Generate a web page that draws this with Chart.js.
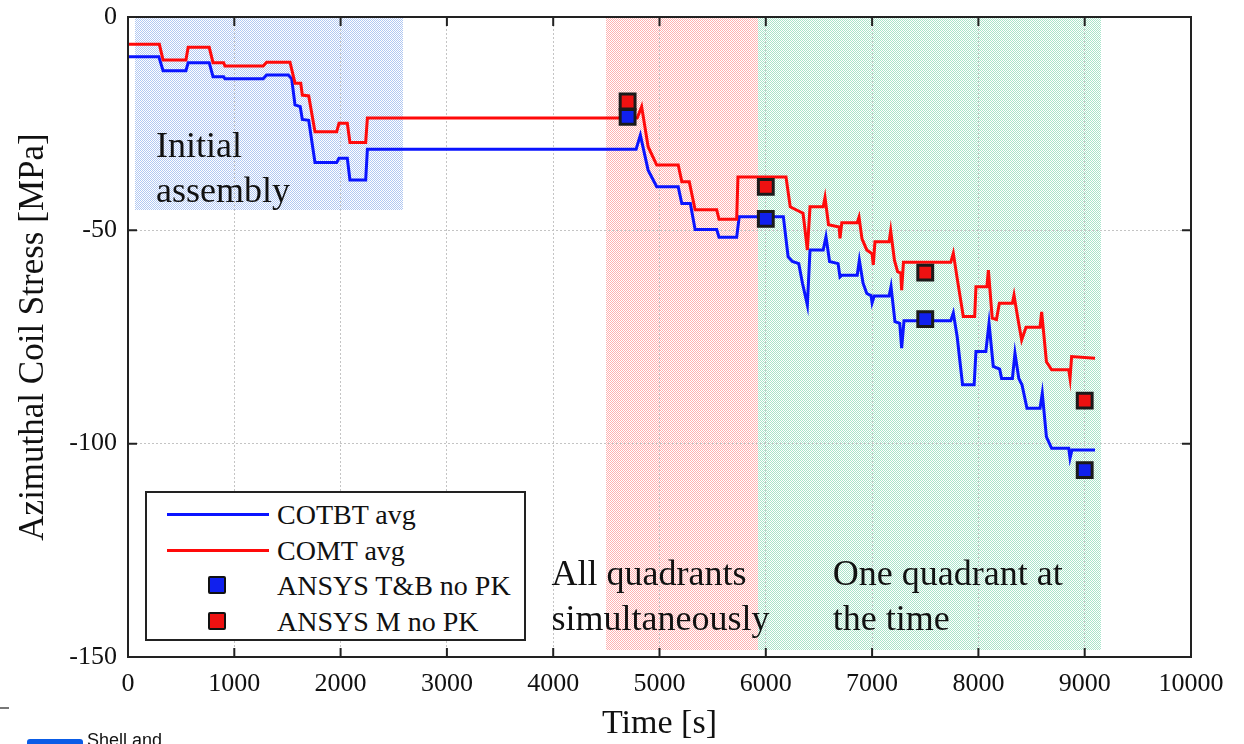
<!DOCTYPE html>
<html>
<head>
<meta charset="utf-8">
<script src="https://cdn.jsdelivr.net/npm/chart.js@4.4.1/dist/chart.umd.min.js"></script>
<style>
  body { margin: 0; background: #fff; overflow: hidden; }
  #wrap { position: relative; width: 1244px; height: 744px; }
  #legend {
    position: absolute; left: 145px; top: 491px; width: 377px; height: 146px;
    border: 2px solid #222; background: #fff;
    font-family: "Liberation Serif", serif; font-size: 28px; color: #111;
  }
  #legend .row { position: absolute; left: 0; height: 34px; width: 100%; }
  #legend .sym { position: absolute; left: 20px; width: 102px; top: 0; height: 34px; }
  #legend .line { position: absolute; left: 0; right: 0; top: 15px; height: 3px; }
  #legend .box {
    position: absolute; left: 41px; top: 7px; width: 14px; height: 14px;
    border: 2.5px solid #111; border-radius: 2px;
  }
  #legend .txt { position: absolute; left: 130px; top: 0; line-height: 34px; white-space: nowrap; }
  .frag { position: absolute; }
</style>
</head>
<body>
<div id="wrap">
  <canvas id="chart"></canvas>
  <div id="legend"></div>
  <div class="frag" style="left:0;top:707px;width:9px;height:2px;background:#777"></div>
  <div class="frag" style="left:27px;top:739px;width:56px;height:8px;background:#0a5ce6;border-radius:3px"></div>
  <div class="frag" style="left:87px;top:730px;font-family:'Liberation Sans',Arial,sans-serif;font-size:18px;color:#111">Shell and</div>
</div>
<script>
// time histories [s], [MPa]
const cotbtTime = [0, 290, 330, 545, 566, 764, 800, 900, 912, 1272, 1304, 1508, 1540, 1571, 1620, 1640, 1700, 1759,
  1963, 1985, 2063, 2088, 2236, 2252, 4780, 4820, 4893, 4974, 5176, 5210, 5290, 5335, 5538, 5560, 5726, 5750, 6165,
  6210, 6250, 6310, 6345, 6391, 6416, 6540, 6566, 6600, 6680, 6698, 6715, 6860, 6880, 6915, 6950, 6990, 7000, 7020,
  7160, 7178, 7215, 7260, 7278, 7300, 7740, 7764, 7800, 7851, 7960, 7977, 8070, 8100, 8140, 8200, 8218, 8320, 8344,
  8380, 8410, 8457, 8580, 8601, 8640, 8689, 8850, 8862, 8880, 9097];
const cotbtStress = [-9.3, -9.3, -12.6, -12.6, -10.7, -10.7, -14.0, -14.0, -14.5, -14.5, -13.6, -13.6, -14.5, -20.6,
  -21.0, -24.0, -24.2, -34.1, -34.1, -33.1, -33.1, -38.2, -38.2, -31.0, -31.0, -27.7, -35.9, -39.8, -39.8, -43.7,
  -43.7, -49.8, -49.8, -51.6, -51.6, -46.8, -46.8, -56.2, -57.3, -57.8, -62.4, -67.5, -54.6, -54.6, -51.5, -57.3,
  -57.8, -60.9, -60.5, -60.5, -57.0, -62.4, -64.8, -65.3, -67.0, -65.4, -65.4, -63.2, -71.4, -71.8, -77.6, -71.2,
  -71.2, -69.4, -74.9, -86.2, -86.2, -78.4, -78.4, -71.8, -81.9, -82.5, -84.7, -84.7, -78.8, -84.7, -86.2, -91.7,
  -91.7, -88.2, -98.4, -101.1, -101.1, -103.4, -101.5, -101.5];

const comtTime = [0, 295, 330, 545, 566, 764, 800, 900, 912, 1272, 1304, 1524, 1571, 1625, 1640, 1700, 1759, 1963,
  1985, 2063, 2088, 2236, 2252, 4790, 4832, 4893, 4974, 5176, 5210, 5280, 5335, 5538, 5560, 5726, 5738, 6190, 6230,
  6270, 6350, 6360, 6391, 6416, 6540, 6557, 6590, 6690, 6698, 6715, 6860, 6877, 6905, 6950, 7000, 7011, 7027, 7160,
  7175, 7210, 7240, 7270, 7278, 7295, 7740, 7764, 7800, 7858, 7965, 7977, 8080, 8094, 8130, 8170, 8197, 8320, 8335,
  8370, 8407, 8448, 8580, 8595, 8640, 8689, 8850, 8862, 8877, 9097];
const comtStress = [-6.4, -6.4, -10.1, -10.1, -7.1, -7.1, -10.7, -10.7, -11.5, -11.5, -10.6, -10.6, -15.5, -15.5,
  -18.3, -18.5, -26.9, -26.9, -24.9, -24.9, -29.4, -29.4, -23.7, -23.7, -21.0, -30.4, -34.7, -34.7, -38.6, -38.6,
  -45.2, -45.2, -47.4, -47.4, -37.5, -37.5, -44.5, -45.0, -46.0, -48.0, -54.6, -44.5, -44.5, -42.3, -48.7, -49.2,
  -51.9, -48.2, -48.2, -46.9, -52.0, -54.6, -55.5, -58.1, -52.7, -52.7, -50.1, -57.0, -59.7, -60.0, -64.0, -57.5,
  -57.5, -55.4, -61.2, -70.2, -70.2, -63.2, -63.2, -59.3, -70.6, -70.9, -67.1, -67.1, -65.2, -70.5, -75.7, -72.7,
  -72.7, -69.1, -80.8, -82.7, -82.7, -84.7, -79.6, -80.0];

// ANSYS results
const ansysTime = [4700, 6000, 7500, 9000];
const ansysTB = [-23.4, -47.3, -70.8, -106.2];
const ansysM = [-19.8, -39.8, -59.9, -89.9];

// shaded phases
const phaseStart = [66, 4495, 5927];
const phaseEnd = [2584, 5927, 9150];
const phaseTop = [-0.3, 0, 0];
const phaseBottom = [-45.4, -148.4, -148.4];
const phaseColors = ["rgba(70,125,225,0.42)", "rgba(255,60,60,0.4)", "rgba(30,185,115,0.38)"];

// text notes (data coords)
const noteText = [["Initial", "assembly"], ["All quadrants", "simultaneously"], ["One quadrant at", "the time"]];
const noteX = [263, 3984, 6630];
const noteY = [-30.7, -130.8, -130.8];

const xTicks = [0, 10000, 1000];
const yTicks = [-150, 0, 50];

const serif = "'Liberation Serif', 'Times New Roman', serif";

function pts(xs, ys) {
  return xs.map((x, i) => ({ x: x, y: ys[i] }));
}

// dotted halftone fill like the original
function dotPattern(ctx, color) {
  const c = document.createElement("canvas");
  c.width = 2; c.height = 2;
  const g = c.getContext("2d");
  g.fillStyle = color;
  g.fillRect(0, 0, 1, 1);
  g.fillRect(1, 1, 1, 1);
  return ctx.createPattern(c, "repeat");
}

const phasesPlugin = {
  id: "phases",
  beforeDraw(chart) {
    const { ctx, scales } = chart;
    ctx.save();
    for (let i = 0; i < phaseStart.length; i++) {
      const x0 = scales.x.getPixelForValue(phaseStart[i]);
      const x1 = scales.x.getPixelForValue(phaseEnd[i]);
      const y0 = scales.y.getPixelForValue(phaseTop[i]);
      const y1 = scales.y.getPixelForValue(phaseBottom[i]);
      ctx.fillStyle = dotPattern(ctx, phaseColors[i]);
      ctx.fillRect(Math.round(x0), Math.round(y0), Math.round(x1 - x0), Math.round(y1 - y0));
    }
    ctx.restore();
  },
  afterDatasetsDraw(chart) {
    const { ctx, scales, chartArea: a } = chart;
    ctx.save();
    // notes
    ctx.font = "36px " + serif;
    ctx.fillStyle = "#111";
    ctx.textBaseline = "middle";
    ctx.textAlign = "left";
    for (let i = 0; i < noteText.length; i++) {
      const x = scales.x.getPixelForValue(noteX[i]);
      const y = scales.y.getPixelForValue(noteY[i]);
      noteText[i].forEach((t, j) => ctx.fillText(t, x, y + j * 45));
    }
    // box + inward ticks
    ctx.strokeStyle = "#222";
    ctx.lineWidth = 2;
    ctx.strokeRect(a.left, a.top, a.right - a.left, a.bottom - a.top);
    ctx.beginPath();
    scales.x.ticks.forEach(t => {
      const x = scales.x.getPixelForValue(t.value);
      ctx.moveTo(x, a.bottom); ctx.lineTo(x, a.bottom - 9);
      ctx.moveTo(x, a.top); ctx.lineTo(x, a.top + 9);
    });
    scales.y.ticks.forEach(t => {
      const y = scales.y.getPixelForValue(t.value);
      ctx.moveTo(a.left, y); ctx.lineTo(a.left + 9, y);
      ctx.moveTo(a.right, y); ctx.lineTo(a.right - 9, y);
    });
    ctx.stroke();
    ctx.restore();
  }
};

const marker = {
  showLine: false,
  pointStyle: "rect",
  pointRadius: 10.5,
  pointHoverRadius: 10.5,
  pointBorderWidth: 3,
  pointBorderColor: "#1a1a1a",
};

const config = {
  type: "line",
  data: {
    datasets: [
      Object.assign({ label: "ANSYS M no PK", data: pts(ansysTime, ansysM), pointBackgroundColor: "#ee1111", order: 0 }, marker),
      Object.assign({ label: "ANSYS T&B no PK", data: pts(ansysTime, ansysTB), pointBackgroundColor: "#1020ee", order: 1 }, marker),
      {
        label: "COMT avg",
        data: pts(comtTime, comtStress),
        borderColor: "#ff0a0a",
        borderWidth: 3,
        pointRadius: 0,
        tension: 0,
        order: 2,
      },
      {
        label: "COTBT avg",
        data: pts(cotbtTime, cotbtStress),
        borderColor: "#0a14ff",
        borderWidth: 3,
        pointRadius: 0,
        tension: 0,
        order: 3,
      },
    ],
  },
  options: {
    responsive: true,
    maintainAspectRatio: false,
    animation: false,
    layout: { padding: { top: 17, right: 53, left: 0, bottom: 0 } },
    plugins: {
      legend: { display: false },
      tooltip: { enabled: false },
    },
    scales: {
      x: {
        type: "linear",
        min: xTicks[0],
        max: xTicks[1],
        afterFit: s => { s.height = 87; s.paddingRight = 0; },
        ticks: { stepSize: xTicks[2], color: "#111", padding: 12, maxRotation: 0, callback: v => String(v), font: { family: serif, size: 26 } },
        grid: { color: "#c4c4c4", lineWidth: 1, drawTicks: false },
        border: { display: false, dash: [2, 2] },
        title: { display: true, text: "Time [s]", color: "#111", padding: 0, font: { family: serif, size: 34 } },
      },
      y: {
        type: "linear",
        min: yTicks[0],
        max: yTicks[1],
        afterFit: s => { s.width = 128; s.paddingTop = 0; s.paddingBottom = 0; },
        ticks: { stepSize: yTicks[2], color: "#111", padding: 11, callback: v => String(v), font: { family: serif, size: 26 } },
        grid: { color: "#c4c4c4", lineWidth: 1, drawTicks: false },
        border: { display: false, dash: [2, 2] },
        title: { display: true, text: "Azimuthal Coil Stress [MPa]", color: "#111", padding: { top: 13, bottom: 0 }, font: { family: serif, size: 35 } },
      },
    },
  },
  plugins: [phasesPlugin],
};

const chart = new Chart(document.getElementById("chart"), config);

// legend in MATLAB order: lines first, then markers
const legend = document.getElementById("legend");
const legendOrder = [3, 2, 1, 0];
legendOrder.forEach((di, row) => {
  const ds = config.data.datasets[di];
  const r = document.createElement("div");
  r.className = "row";
  r.style.top = (5 + row * 35.5) + "px";
  const sym = ds.showLine === false
    ? `<div class="box" style="background:${ds.pointBackgroundColor}"></div>`
    : `<div class="line" style="background:${ds.borderColor}"></div>`;
  r.innerHTML = `<div class="sym">${sym}</div><div class="txt">${ds.label}</div>`;
  legend.appendChild(r);
});
</script>
</body>
</html>
